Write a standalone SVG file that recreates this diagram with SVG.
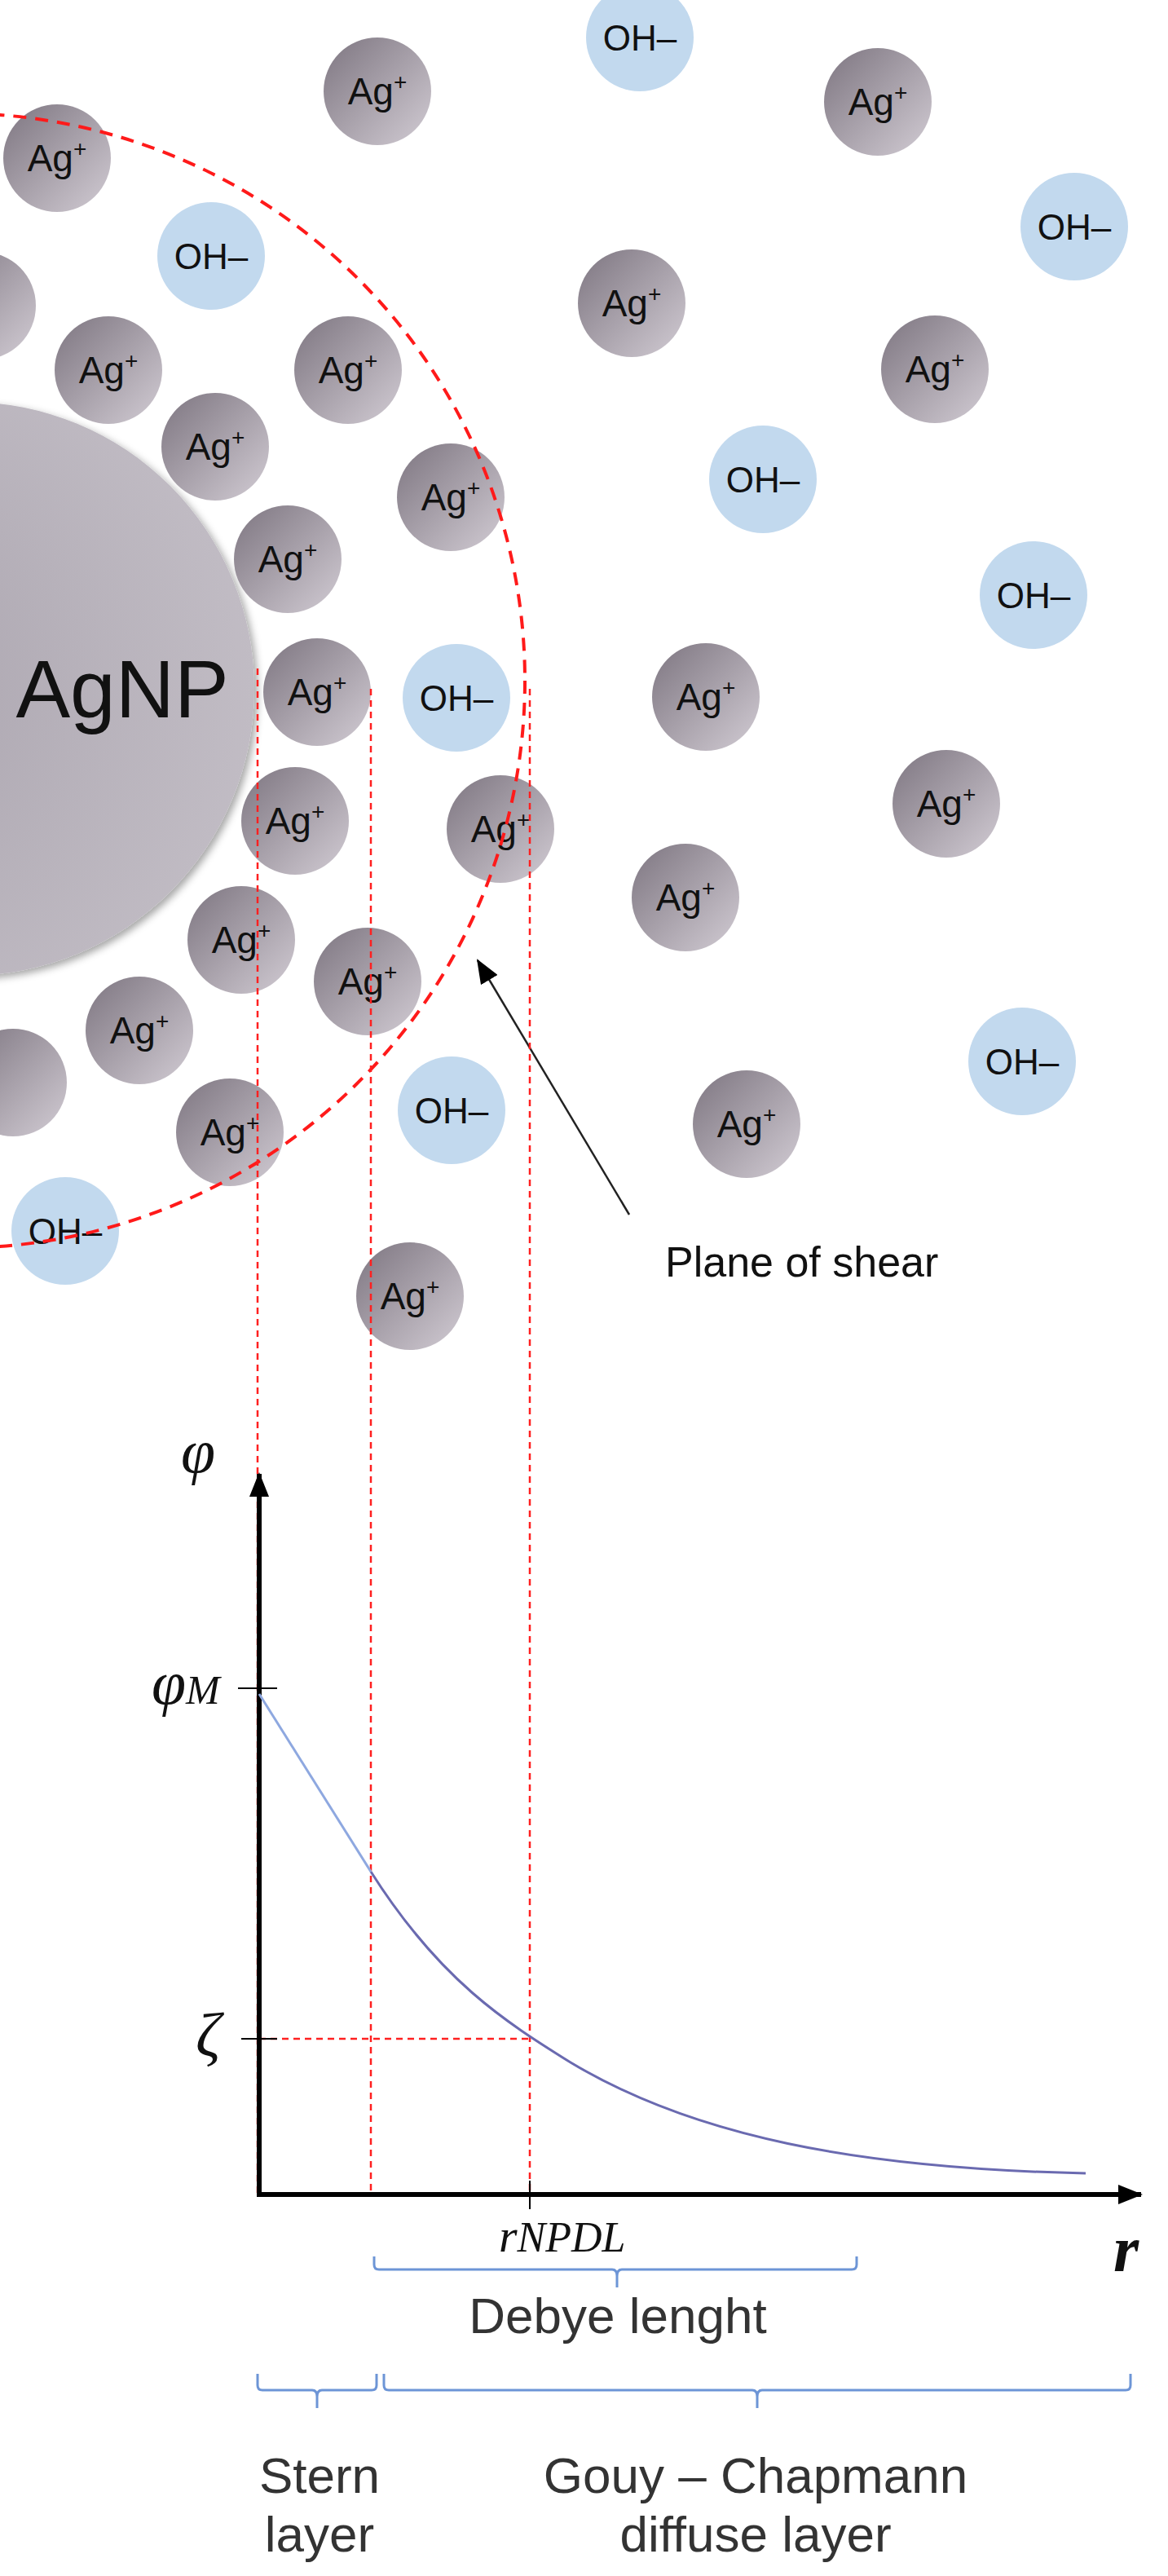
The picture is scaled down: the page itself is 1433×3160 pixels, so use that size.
<svg xmlns="http://www.w3.org/2000/svg" width="1433" height="3160" viewBox="0 0 1433 3160">
<defs>
<linearGradient id="ag" x1="0" y1="0" x2="1" y2="1"><stop offset="0" stop-color="#7d7580"/><stop offset="1" stop-color="#d2ccd4"/></linearGradient>
<radialGradient id="np" cx="0.3" cy="0.5" r="0.8"><stop offset="0" stop-color="#aaa4ae"/><stop offset="1" stop-color="#c4bfc7"/></radialGradient>
<filter id="sh" x="-20%" y="-20%" width="140%" height="140%"><feDropShadow dx="4" dy="4" stdDeviation="5" flood-color="#000" flood-opacity="0.35"/></filter>
<marker id="big" markerWidth="30" markerHeight="24" refX="28" refY="12" orient="auto" markerUnits="userSpaceOnUse"><path d="M0,0 L30,12 L0,24 z" fill="#000"/></marker>
<style>
.ag{fill:url(#ag)}
.oh{fill:#c2d9ee}
.t{font-family:"Liberation Sans",Arial,sans-serif;fill:#111;text-anchor:middle}
.it{font-family:"Liberation Serif","Times New Roman",serif;font-style:italic;fill:#111}
.rd{stroke:#ff2020;stroke-width:2.5;stroke-dasharray:8,6;fill:none}
.br{stroke:#6d95d6;stroke-width:3;fill:none}
.lt{font-family:"Liberation Sans",Arial,sans-serif;font-size:62px;fill:#333;text-anchor:middle}
</style>
</defs>
<rect width="1433" height="3160" fill="#fff"/>
<g id="agnp"><circle cx="-40" cy="845" r="352" fill="url(#np)" filter="url(#sh)"/><text x="150" y="880" class="t" font-size="100">AgNP</text></g>
<g id="ions" font-size="46">
<circle cx="-22" cy="375" r="66" class="ag"/>
<circle cx="16" cy="1328" r="66" class="ag"/>
<g id="a1"><circle cx="463" cy="112" r="66" class="ag"/><text x="463" y="128" class="t">Ag<tspan font-size="28" dy="-18">+</tspan></text></g>
<g id="a2"><circle cx="1077" cy="125" r="66" class="ag"/><text x="1077" y="141" class="t">Ag<tspan font-size="28" dy="-18">+</tspan></text></g>
<g id="a3"><circle cx="70" cy="194" r="66" class="ag"/><text x="70" y="210" class="t">Ag<tspan font-size="28" dy="-18">+</tspan></text></g>
<g id="a4"><circle cx="775" cy="372" r="66" class="ag"/><text x="775" y="388" class="t">Ag<tspan font-size="28" dy="-18">+</tspan></text></g>
<g id="a5"><circle cx="133" cy="454" r="66" class="ag"/><text x="133" y="470" class="t">Ag<tspan font-size="28" dy="-18">+</tspan></text></g>
<g id="a6"><circle cx="427" cy="454" r="66" class="ag"/><text x="427" y="470" class="t">Ag<tspan font-size="28" dy="-18">+</tspan></text></g>
<g id="a7"><circle cx="1147" cy="453" r="66" class="ag"/><text x="1147" y="469" class="t">Ag<tspan font-size="28" dy="-18">+</tspan></text></g>
<g id="a8"><circle cx="264" cy="548" r="66" class="ag"/><text x="264" y="564" class="t">Ag<tspan font-size="28" dy="-18">+</tspan></text></g>
<g id="a9"><circle cx="553" cy="610" r="66" class="ag"/><text x="553" y="626" class="t">Ag<tspan font-size="28" dy="-18">+</tspan></text></g>
<g id="a10"><circle cx="353" cy="686" r="66" class="ag"/><text x="353" y="702" class="t">Ag<tspan font-size="28" dy="-18">+</tspan></text></g>
<g id="a11"><circle cx="389" cy="849" r="66" class="ag"/><text x="389" y="865" class="t">Ag<tspan font-size="28" dy="-18">+</tspan></text></g>
<g id="a12"><circle cx="866" cy="855" r="66" class="ag"/><text x="866" y="871" class="t">Ag<tspan font-size="28" dy="-18">+</tspan></text></g>
<g id="a13"><circle cx="362" cy="1007" r="66" class="ag"/><text x="362" y="1023" class="t">Ag<tspan font-size="28" dy="-18">+</tspan></text></g>
<g id="a14"><circle cx="614" cy="1017" r="66" class="ag"/><text x="614" y="1033" class="t">Ag<tspan font-size="28" dy="-18">+</tspan></text></g>
<g id="a15"><circle cx="1161" cy="986" r="66" class="ag"/><text x="1161" y="1002" class="t">Ag<tspan font-size="28" dy="-18">+</tspan></text></g>
<g id="a16"><circle cx="841" cy="1101" r="66" class="ag"/><text x="841" y="1117" class="t">Ag<tspan font-size="28" dy="-18">+</tspan></text></g>
<g id="a17"><circle cx="296" cy="1153" r="66" class="ag"/><text x="296" y="1169" class="t">Ag<tspan font-size="28" dy="-18">+</tspan></text></g>
<g id="a18"><circle cx="451" cy="1204" r="66" class="ag"/><text x="451" y="1220" class="t">Ag<tspan font-size="28" dy="-18">+</tspan></text></g>
<g id="a19"><circle cx="171" cy="1264" r="66" class="ag"/><text x="171" y="1280" class="t">Ag<tspan font-size="28" dy="-18">+</tspan></text></g>
<g id="a20"><circle cx="282" cy="1389" r="66" class="ag"/><text x="282" y="1405" class="t">Ag<tspan font-size="28" dy="-18">+</tspan></text></g>
<g id="a21"><circle cx="916" cy="1379" r="66" class="ag"/><text x="916" y="1395" class="t">Ag<tspan font-size="28" dy="-18">+</tspan></text></g>
<g id="a22"><circle cx="503" cy="1590" r="66" class="ag"/><text x="503" y="1606" class="t">Ag<tspan font-size="28" dy="-18">+</tspan></text></g>
<g id="o1"><circle cx="785" cy="46" r="66" class="oh"/><text x="785" y="62" class="t" font-size="44">OH–</text></g>
<g id="o2"><circle cx="1318" cy="278" r="66" class="oh"/><text x="1318" y="294" class="t" font-size="44">OH–</text></g>
<g id="o3"><circle cx="259" cy="314" r="66" class="oh"/><text x="259" y="330" class="t" font-size="44">OH–</text></g>
<g id="o4"><circle cx="936" cy="588" r="66" class="oh"/><text x="936" y="604" class="t" font-size="44">OH–</text></g>
<g id="o5"><circle cx="1268" cy="730" r="66" class="oh"/><text x="1268" y="746" class="t" font-size="44">OH–</text></g>
<g id="o6"><circle cx="560" cy="856" r="66" class="oh"/><text x="560" y="872" class="t" font-size="44">OH–</text></g>
<g id="o7"><circle cx="554" cy="1362" r="66" class="oh"/><text x="554" y="1378" class="t" font-size="44">OH–</text></g>
<g id="o8"><circle cx="1254" cy="1302" r="66" class="oh"/><text x="1254" y="1318" class="t" font-size="44">OH–</text></g>
<g id="o9"><circle cx="80" cy="1510" r="66" class="oh"/><text x="80" y="1526" class="t" font-size="44">OH–</text></g>
</g>
<g id="connectors">
<circle cx="-52" cy="835" r="696" fill="none" stroke="#ff1a1a" stroke-width="4" stroke-dasharray="16,11"/>
<line x1="772" y1="1490" x2="586" y2="1178" stroke="#222" stroke-width="2.5" marker-end="url(#big)"/>
<line x1="316" y1="820" x2="316" y2="2692" class="rd"/>
<line x1="455" y1="845" x2="455" y2="2692" class="rd"/>
<line x1="650" y1="845" x2="650" y2="2692" class="rd"/>
<line x1="318" y1="2501" x2="650" y2="2501" class="rd"/>
<line x1="318" y1="2694" x2="318" y2="1808" stroke="#000" stroke-width="6" marker-end="url(#big)"/>
<line x1="315" y1="2692" x2="1400" y2="2692" stroke="#000" stroke-width="6" marker-end="url(#big)"/>
<line x1="292" y1="2071" x2="340" y2="2071" stroke="#000" stroke-width="2"/>
<line x1="296" y1="2501" x2="340" y2="2501" stroke="#000" stroke-width="2"/>
<line x1="650" y1="2675" x2="650" y2="2710" stroke="#000" stroke-width="2"/>
<path d="M318,2078 L455,2296" fill="none" stroke="#8ea8e0" stroke-width="3"/>
<path d="M455,2296 C540,2430 620,2480 700,2530 C850,2620 1050,2660 1332,2666" fill="none" stroke="#6a6ab0" stroke-width="3"/>
<path d="M459,2768 v10 q0,6 6,6 h286 q6,0 6,8 v14 v-14 q0,-8 6,-8 h282 q6,0 6,-6 v-10" class="br"/>
<path d="M316,2912 v14 q0,6 6,6 h61 q6,0 6,8 v14 v-14 q0,-8 6,-8 h61 q6,0 6,-6 v-14" class="br"/>
<path d="M471,2912 v14 q0,6 6,6 h446 q6,0 6,8 v14 v-14 q0,-8 6,-8 h446 q6,0 6,-6 v-14" class="br"/>
</g>
<g id="labels">
<text x="816" y="1566" font-family="Liberation Sans,Arial,sans-serif" font-size="52" fill="#111">Plane of shear</text>
<text x="222" y="1806" class="it" font-size="76">φ</text>
<text x="186" y="2090" class="it" font-size="76">φ<tspan font-size="50">M</tspan></text>
<text x="240" y="2522" class="it" font-size="76">ζ</text>
<text x="612" y="2762" class="it" font-size="58">r<tspan font-size="52">NPDL</tspan></text>
<text x="1366" y="2786" class="it" font-size="80" font-weight="bold">r</text>
<text x="758" y="2862" class="lt">Debye lenght</text>
<text x="392" y="3058" class="lt">Stern</text>
<text x="392" y="3130" class="lt">layer</text>
<text x="927" y="3058" class="lt">Gouy – Chapmann</text>
<text x="927" y="3130" class="lt">diffuse layer</text>
</g>
</svg>
